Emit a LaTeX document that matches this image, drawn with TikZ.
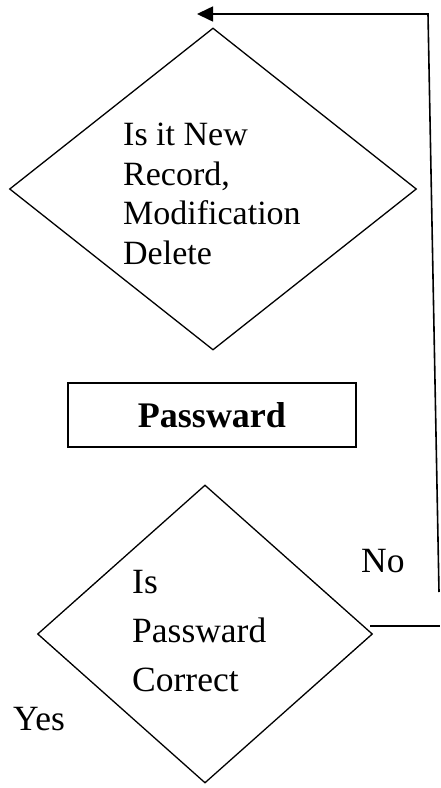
\documentclass[tikz,border=0pt]{standalone}
\usepackage{fontspec}
\setmainfont{Liberation Serif}
\usetikzlibrary{shapes.geometric,arrows.meta}
\begin{document}
\begin{tikzpicture}[x=1pt,y=-1pt,
  shapeline/.style={draw=black,line width=1.3pt},
  dec/.style={shapeline,diamond,inner sep=0pt},
  txt/.style={anchor=base west,inner sep=0pt,font=\fontsize{34}{40}\selectfont},
  txtb/.style={anchor=base west,inner sep=0pt,font=\fontsize{35.5}{42}\selectfont},
  conn/.style={draw=black,line width=1.6pt}]
\useasboundingbox (0,0) rectangle (440,788);
% top decision
\node[dec,minimum width=407pt,minimum height=322pt] (d1) at (213,189) {};
\node[txt] (d1a) at (123,145) {Is it New};
\node[txt] (d1b) at (123,185) {Record,};
\node[txt] (d1c) at (123,224) {Modification};
\node[txt] (d1d) at (123,264) {Delete};
% password box
\node[shapeline,rectangle,minimum width=288pt,minimum height=64pt,inner sep=0pt,
      text height=24pt,text depth=0pt,font=\fontsize{36}{42}\selectfont\bfseries] (pw) at (212,415) {Passward};
% lower decision
\node[dec,minimum width=335pt,minimum height=298pt] (d2) at (205,634) {};
\node[txtb] (d2a) at (132,593) {Is};
\node[txtb] (d2b) at (132,642) {Passward};
\node[txtb] (d2c) at (132,691) {Correct};
% labels
\node[txtb] (no) at (361,572) {No};
\node[txtb] (yes) at (13,730) {Yes};
% loop-back connector
\coordinate (nA) at (370,626);
\coordinate (nB) at (440,626);
\coordinate (vA) at (439,592);
\coordinate (vB) at (428,14);
\coordinate (tip) at (197,14);
\draw[conn] (nA) -- (nB);
\draw[conn,-{Triangle[length=16pt,width=15pt]}] (vA) -- (vB) -- (tip);
\end{tikzpicture}
\end{document}
